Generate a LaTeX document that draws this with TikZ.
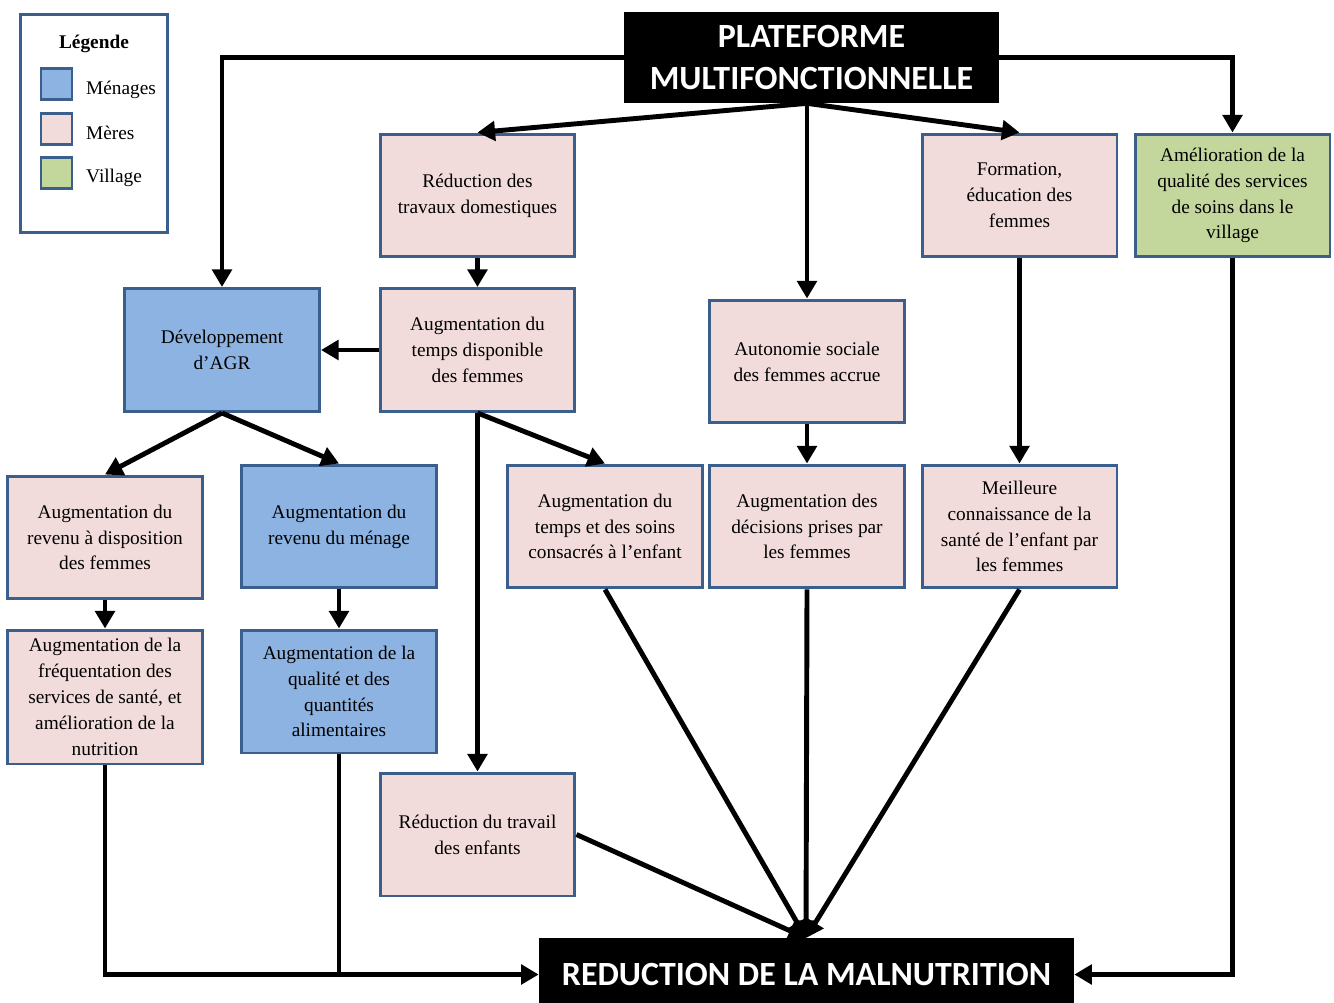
\documentclass[tikz,border=0pt]{standalone}
\usepackage{fontspec}
\setmainfont{Liberation Serif}
\newfontfamily\titrefont{Carlito}
\usetikzlibrary{arrows.meta}

\definecolor{bord}{HTML}{3B5F8D}
\definecolor{rose}{HTML}{F2DCDB}
\definecolor{bleu}{HTML}{8DB3E2}
\definecolor{vert}{HTML}{C3D69B}

\tikzset{
  boite/.style={draw=bord, line width=1.7pt, align=center, minimum width=3.9cm,
    minimum height=2.46cm, inner sep=2pt, font=\fontsize{11}{14.7}\selectfont},
  mere/.style={boite, fill=rose},
  menage/.style={boite, fill=bleu},
  village/.style={boite, fill=vert},
  titre/.style={fill=black, text=white, align=center, inner sep=0pt,
    font=\titrefont\bfseries\fontsize{19.3}{24}\selectfont},
  fleche/.style={line width=2.8pt, -{Triangle[length=10pt,width=11pt]}},
  trait/.style={line width=2.8pt},
  carre/.style={draw=bord, line width=1.7pt, minimum size=0.62cm, inner sep=0pt}
}

\begin{document}
\begin{tikzpicture}[x=0.02cm, y=-0.02cm]
        \useasboundingbox (0, 0) rectangle (1334, 1003);

        % legende
        \node[draw=bord, line width=1.7pt, minimum width=2.95cm, minimum height=4.37cm] (leg) at (94, 123.5) {};
        \node[font=\bfseries\fontsize{11}{13}\selectfont] (legtitre) at (94, 44) {Légende};
        \node[carre, fill=bleu] (cmen) at (56.5, 84) {};
        \node[anchor=west, font=\fontsize{11}{13}\selectfont] (lmen) at (80, 90) {Ménages};
        \node[carre, fill=rose] (cmer) at (56.5, 129) {};
        \node[anchor=west, font=\fontsize{11}{13}\selectfont] (lmer) at (80, 133) {Mères};
        \node[carre, fill=vert] (cvil) at (56.5, 173) {};
        \node[anchor=west, font=\fontsize{11}{13}\selectfont] (lvil) at (80, 178) {Village};

        % titres
        \node[titre, minimum width=7.5cm, minimum height=1.82cm] (plat) at (811.5, 57.5)
             {PLATEFORME\\MULTIFONCTIONNELLE};
        \node[titre, minimum width=10.7cm, minimum height=1.46cm] (malnut) at (806.5, 974.5)
             {REDUCTION DE LA MALNUTRITION};

        % premiere rangee
        \node[mere] (reduc) at (477.5, 195.5) {Réduction des\\travaux domestiques};
        \node[mere] (form) at (1019.5, 195.5) {Formation,\\éducation des\\femmes};
        \node[village] (soinsvil) at (1232.5, 195.5) {Amélioration de la\\qualité des services\\de soins dans le\\village};

        % deuxieme rangee
        \node[menage] (agr) at (222, 350) {Développement\\d’AGR};
        \node[mere] (tempsdisp) at (477.5, 350) {Augmentation du\\temps disponible\\des femmes};
        \node[mere] (auto) at (807, 361.5) {Autonomie sociale\\des femmes accrue};

        % troisieme rangee
        \node[mere] (revdisp) at (105, 537.5) {Augmentation du\\revenu à disposition\\des femmes};
        \node[menage] (revmen) at (339, 526.5) {Augmentation du\\revenu du ménage};
        \node[mere] (soins) at (605, 526.5) {Augmentation du\\temps et des soins\\consacrés à l’enfant};
        \node[mere] (decis) at (807, 526.5) {Augmentation des\\décisions prises par\\les femmes};
        \node[mere] (connais) at (1019.5, 526.5) {Meilleure\\connaissance de la\\santé de l’enfant par\\les femmes};

        % quatrieme rangee
        \node[mere, minimum height=2.68cm] (freq) at (105, 697) {Augmentation de la\\fréquentation des\\services de santé, et\\amélioration de la\\nutrition};
        \node[menage] (qual) at (339, 691.5) {Augmentation de la\\qualité et des\\quantités\\alimentaires};
        \node[mere] (enfants) at (477.5, 834.5) {Réduction du travail\\des enfants};

        \coordinate (pbas) at (auto.north |- plat.south);
        \coordinate (mtop) at (806, 938);

        % depuis la plateforme
        \draw[fleche] (plat.west) -| (agr.north);
        \draw[fleche] (plat.east) -| (soinsvil.north);
        \draw[fleche] (pbas) -- (reduc.north);
        \draw[fleche] (pbas) -- (form.north);
        \draw[fleche] (pbas) -- (auto.north);

        \draw[fleche] (reduc) -- (tempsdisp);
        \draw[fleche] (tempsdisp) -- (agr);
        \draw[fleche] (agr.south) -- (revdisp.north);
        \draw[fleche] (agr.south) -- (revmen.north);
        \draw[fleche] (tempsdisp.south) -- (soins.north);
        \draw[fleche] (tempsdisp.south) -- (enfants.north);
        \draw[fleche] (auto) -- (decis);
        \draw[fleche] (form) -- (connais);
        \draw[fleche] (revdisp) -- (freq);
        \draw[fleche] (revmen) -- (qual);

        % vers la malnutrition
        \draw[fleche] (freq.south) |- (malnut.west);
        \draw[trait] (qual.south) -- (qual.south |- malnut.west);
        \draw[fleche] (soinsvil.south) |- (malnut.east);
        \draw[fleche] (enfants.east) -- (mtop);
        \draw[fleche] (soins.south) -- (mtop);
        \draw[fleche] (connais.south) -- (mtop);
        \draw[fleche] (decis.south) -- (mtop);
    \end{tikzpicture}
\end{document}
